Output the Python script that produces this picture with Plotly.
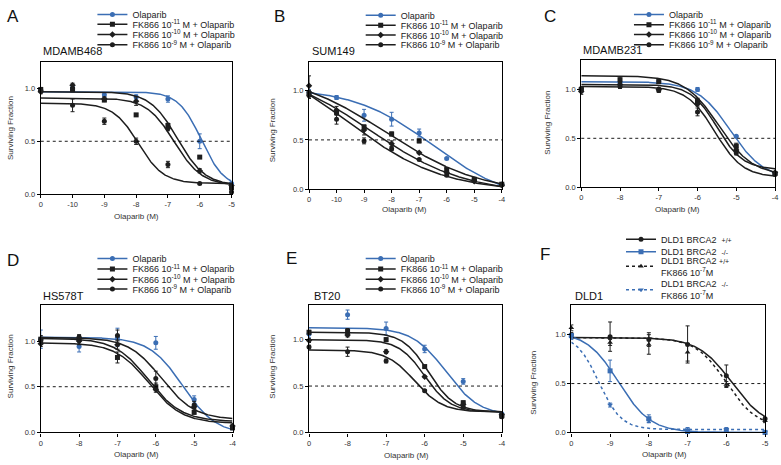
import numpy as np
import plotly.graph_objects as go

W, H = 781, 465
FONT = "Liberation Sans, Arial, sans-serif"
BLUE = "#3b6eb4"
BLACK = "#1e1e1e"

# ================= DATA =================
# log10 concentration positions; first position is the untreated "0" control
# ---- A  MDAMB468
a_x = [-11, -10, -9, -8, -7, -6, -5]
a_ticks = ["0", "-10", "-9", "-8", "-7", "-6", "-5"]
a_olap = [0.98, 1.00, 0.94, 0.92, 0.90, 0.50, 0.10]
a_olap_err = [0.02, 0.02, 0.02, 0.02, 0.03, 0.07, 0.01]
a_fk11 = [0.99, 0.99, 0.89, 0.75, 0.65, 0.35, 0.06]
a_fk11_err = [0.02, 0.02, 0.01, 0.01, 0.02, 0.01, 0.01]
a_fk10 = [0.97, 1.03, 0.90, 0.88, 0.62, 0.22, 0.08]
a_fk10_err = [0.02, 0.02, 0.02, 0.04, 0.02, 0.02, 0.01]
a_fk9 = [0.98, 0.84, 0.69, 0.50, 0.28, 0.10, 0.02]
a_fk9_err = [0.02, 0.06, 0.03, 0.03, 0.03, 0.01, 0.01]
# fitted 4PL parameters: top, bottom, logIC50, hill
a_fit_olap = [0.97, 0.06, -5.95, 1.2]
a_fit_fk11 = [0.97, 0.08, -6.70, 1.0]
a_fit_fk10 = [0.91, 0.08, -6.80, 1.0]
a_fit_fk9 = [0.86, 0.10, -7.93, 1.1]

# ---- B  SUM149
b_x = [-11, -10, -9, -8, -7, -6, -5, -4]
b_ticks = ["0", "-10", "-9", "-8", "-7", "-6", "-5", "-4"]
b_olap = [0.98, 0.93, 0.75, 0.71, 0.57, 0.31, 0.10, 0.05]
b_olap_err = [0.03, 0.02, 0.06, 0.07, 0.04, 0.01, 0.01, 0.01]
b_fk11 = [0.97, 0.78, 0.63, 0.56, 0.49, 0.20, 0.10, 0.05]
b_fk11_err = [0.03, 0.03, 0.02, 0.02, 0.02, 0.01, 0.01, 0.01]
b_fk10 = [1.05, 0.80, 0.60, 0.46, 0.37, 0.17, 0.08, 0.04]
b_fk10_err = [0.10, 0.04, 0.05, 0.03, 0.01, 0.01, 0.01, 0.01]
b_fk9 = [0.95, 0.71, 0.49, 0.41, 0.30, 0.14, 0.09, 0.05]
b_fk9_err = [0.03, 0.05, 0.03, 0.02, 0.01, 0.01, 0.01, 0.01]
b_fit_olap = [1.03, -0.14, -6.50, 0.30]
b_fit_fk11 = [1.20, -0.05, -8.20, 0.25]
b_fit_fk10 = [1.25, -0.05, -8.80, 0.25]
b_fit_fk9 = [1.40, -0.03, -9.60, 0.25]

# ---- C  MDAMB231
c_x = [-9, -8, -7, -6, -5, -4]
c_ticks = ["0", "-8", "-7", "-6", "-5", "-4"]
c_olap = [1.00, 1.07, 1.08, 1.00, 0.52, 0.14]
c_olap_err = [0.03, 0.02, 0.02, 0.02, 0.01, 0.01]
c_fk11 = [1.00, 1.10, 1.08, 0.88, 0.42, 0.14]
c_fk11_err = [0.02, 0.03, 0.02, 0.03, 0.03, 0.01]
c_fk10 = [0.98, 1.05, 1.00, 0.85, 0.38, 0.15]
c_fk10_err = [0.03, 0.02, 0.02, 0.02, 0.02, 0.01]
c_fk9 = [1.01, 1.03, 0.99, 0.77, 0.35, 0.13]
c_fk9_err = [0.02, 0.02, 0.02, 0.04, 0.02, 0.01]
c_fit_olap = [1.08, 0.08, -5.15, 1.0]
c_fit_fk11 = [1.14, 0.12, -5.45, 1.0]
c_fit_fk10 = [1.05, 0.18, -5.50, 1.3]
c_fit_fk9 = [1.03, 0.10, -5.55, 1.2]

# ---- D  HS578T
d_x = [-9, -8, -7, -6, -5, -4]
d_ticks = ["0", "-8", "-7", "-6", "-5", "-4"]
d_olap = [1.02, 0.94, 1.04, 0.98, 0.36, 0.05]
d_olap_err = [0.10, 0.06, 0.10, 0.07, 0.04, 0.02]
d_fk11 = [1.02, 1.02, 0.82, 0.50, 0.22, 0.05]
d_fk11_err = [0.04, 0.04, 0.06, 0.04, 0.02, 0.02]
d_fk10 = [0.97, 1.00, 0.96, 0.47, 0.28, 0.07]
d_fk10_err = [0.03, 0.04, 0.05, 0.03, 0.02, 0.02]
d_fk9 = [1.01, 1.04, 1.06, 0.59, 0.30, 0.06]
d_fk9_err = [0.03, 0.03, 0.06, 0.08, 0.04, 0.02]
d_fit_olap = [1.04, -0.02, -5.30, 1.0]
d_fit_fk11 = [1.03, 0.12, -6.19, 1.0]
d_fit_fk10 = [0.98, 0.10, -6.18, 1.0]
d_fit_fk9 = [1.04, 0.14, -5.85, 1.0]

# ---- E  BT20
e_x = [-9, -8, -7, -6, -5, -4]
e_ticks = ["0", "-8", "-7", "-6", "-5", "-4"]
e_olap = [1.06, 1.27, 1.12, 0.90, 0.55, 0.20]
e_olap_err = [0.04, 0.05, 0.07, 0.04, 0.03, 0.01]
e_fk11 = [1.08, 1.09, 1.00, 0.71, 0.32, 0.18]
e_fk11_err = [0.02, 0.03, 0.02, 0.01, 0.02, 0.01]
e_fk10 = [0.99, 1.05, 0.87, 0.60, 0.30, 0.19]
e_fk10_err = [0.02, 0.02, 0.02, 0.01, 0.02, 0.01]
e_fk9 = [0.92, 0.87, 0.77, 0.45, 0.27, 0.17]
e_fk9_err = [0.02, 0.05, 0.02, 0.01, 0.01, 0.02]
e_fit_olap = [1.13, 0.18, -5.45, 1.0]
e_fit_fk11 = [1.08, 0.22, -5.90, 1.3]
e_fit_fk10 = [1.00, 0.22, -6.00, 1.3]
e_fit_fk9 = [0.89, 0.22, -6.26, 1.2]

# ---- F  DLD1
f_x = [-10, -9, -8, -7, -6, -5]
f_ticks = ["0", "-9", "-8", "-7", "-6", "-5"]
f_wt = [1.00, 0.98, 0.95, 0.90, 0.58, 0.14]
f_wt_err = [0.02, 0.15, 0.07, 0.19, 0.11, 0.02]
f_ko = [0.99, 0.63, 0.14, 0.01, 0.02, 0.00]
f_ko_err = [0.02, 0.11, 0.04, 0.02, 0.02, 0.01]
f_wt_fk = [1.07, 0.92, 0.90, 0.82, 0.49, 0.12]
f_wt_fk_err = [0.03, 0.03, 0.10, 0.09, 0.03, 0.02]
f_ko_fk = [0.97, 0.28, 0.12, 0.03, 0.03, 0.00]
f_ko_fk_err = [0.02, 0.02, 0.02, 0.02, 0.02, 0.01]
f_fit_wt = [0.97, 0.05, -5.86, 1.0]
f_fit_ko = [1.03, 0.00, -8.78, 1.05]
f_fit_wt_fk = [0.97, 0.05, -6.00, 1.1]
f_fit_ko_fk = [1.00, 0.03, -9.29, 1.5]

# legend labels
SMALL = "<span style='font-size:7px'>%s</span>"
LBL_OLAP = "Olaparib"
LBL_FK11 = "FK866 10<sup>-11</sup> M + Olaparib"
LBL_FK10 = "FK866 10<sup>-10</sup> M + Olaparib"
LBL_FK9 = "FK866 10<sup>-9</sup> M + Olaparib"
LBL_WT = "DLD1 BRCA2  " + SMALL % "+/+"
LBL_KO = "DLD1 BRCA2  " + SMALL % "-/-"
LBL_WT_FK = "DLD1 BRCA2 " + SMALL % "+/+" + "<br>FK866 10<sup>-7</sup>M"
LBL_KO_FK = "DLD1 BRCA2  " + SMALL % "-/-" + "<br>FK866 10<sup>-7</sup>M"

Y_TICKS = [0, 0.5, 1.0]
Y_TICKTEXT = ["0.0", "0.5", "1.0"]
HALF = 0.5


def fourpl(x, p):
    top, bottom, logic50, hill = p
    return bottom + (top - bottom) / (1 + 10 ** (hill * (x - logic50)))


def std_series(olap, olap_e, fo, fk11, fk11_e, f11, fk10, fk10_e, f10, fk9, fk9_e, f9):
    return [
        (LBL_OLAP, olap, olap_e, fo, BLUE, "circle", "solid"),
        (LBL_FK11, fk11, fk11_e, f11, BLACK, "square", "solid"),
        (LBL_FK10, fk10, fk10_e, f10, BLACK, "diamond", "solid"),
        (LBL_FK9, fk9, fk9_e, f9, BLACK, "circle", "solid"),
    ]


panels = [
    dict(letter="A", name="MDAMB468", x=a_x, ticks=a_ticks,
         series=std_series(a_olap, a_olap_err, a_fit_olap, a_fk11, a_fk11_err, a_fit_fk11,
                           a_fk10, a_fk10_err, a_fit_fk10, a_fk9, a_fk9_err, a_fit_fk9),
         box=(39, 231, 61, 195), ymax=1.25, let=(3, 15), tit=(39, 50), yt=(8, 128), xt=(135, 218),
         legx=131, legy=[12.5, 22.5, 33, 43.5]),
    dict(letter="B", name="SUM149", x=b_x, ticks=b_ticks,
         series=std_series(b_olap, b_olap_err, b_fit_olap, b_fk11, b_fk11_err, b_fit_fk11,
                           b_fk10, b_fk10_err, b_fit_fk10, b_fk9, b_fk9_err, b_fit_fk9),
         box=(309, 503, 61, 190), ymax=1.29, let=(272, 15), tit=(310, 50), yt=(272, 130), xt=(405, 211),
         legx=401, legy=[13.5, 23.5, 33.5, 43.5]),
    dict(letter="C", name="MDAMB231", x=c_x, ticks=c_ticks,
         series=std_series(c_olap, c_olap_err, c_fit_olap, c_fk11, c_fk11_err, c_fit_fk11,
                           c_fk10, c_fk10_err, c_fit_fk10, c_fk9, c_fk9_err, c_fit_fk9),
         box=(583, 778, 59, 188), ymax=1.30, let=(543, 15), tit=(583, 49), yt=(549, 122), xt=(680, 211),
         legx=671, legy=[12.5, 23, 33, 43.5]),
    dict(letter="D", name="HS578T", x=d_x, ticks=d_ticks,
         series=std_series(d_olap, d_olap_err, d_fit_olap, d_fk11, d_fk11_err, d_fit_fk11,
                           d_fk10, d_fk10_err, d_fit_fk10, d_fk9, d_fk9_err, d_fit_fk9),
         box=(39, 232, 308, 437), ymax=1.39, let=(3, 262), tit=(39, 299), yt=(8, 370), xt=(135, 459),
         legx=131, legy=[260.5, 271, 281.5, 291.5]),
    dict(letter="E", name="BT20", x=e_x, ticks=e_ticks,
         series=std_series(e_olap, e_olap_err, e_fit_olap, e_fk11, e_fk11_err, e_fit_fk11,
                           e_fk10, e_fk10_err, e_fit_fk10, e_fk9, e_fk9_err, e_fit_fk9),
         box=(309, 503, 308, 437), ymax=1.37, let=(284, 260), tit=(312, 298), yt=(272, 370), xt=(407, 460),
         legx=401, legy=[260.5, 271, 281.5, 291.5]),
    dict(letter="F", name="DLD1", x=f_x, ticks=f_ticks,
         series=[
             (LBL_WT, f_wt, f_wt_err, f_fit_wt, BLACK, "circle", "solid"),
             (LBL_KO, f_ko, f_ko_err, f_fit_ko, BLUE, "square", "solid"),
             (LBL_WT_FK, f_wt_fk, f_wt_fk_err, f_fit_wt_fk, BLACK, "triangle-up", "dot"),
             (LBL_KO_FK, f_ko_fk, f_ko_fk_err, f_fit_ko_fk, BLUE, "triangle-down", "dot"),
         ],
         box=(573, 768, 308, 437), ymax=1.30, let=(539, 256), tit=(575, 298), yt=(535, 387), xt=(667, 459),
         legx=663, legy=[241, 253.5, 268.5, 292.5]),
]

fig = go.Figure()
layout = dict(
    width=W, height=H, margin=dict(l=0, r=0, t=0, b=0),
    paper_bgcolor="white", plot_bgcolor="white",
    font=dict(family=FONT, color="#222"),
    showlegend=True,
)
annotations = []
shapes = []
leg_n = 0

for i, p in enumerate(panels):
    n = i + 1
    sfx = "" if n == 1 else str(n)
    xa, ya = "x" + sfx, "y" + sfx
    l, r, t, b = p["box"]
    xmin, xmax = min(p["x"]), max(p["x"])
    grid = np.linspace(xmin, xmax, 300)

    for (label, vals, errs, fit, col, sym, dash) in p["series"]:
        fig.add_trace(go.Scatter(
            x=grid, y=fourpl(grid, fit), mode="lines", xaxis=xa, yaxis=ya,
            line=dict(color=col, width=1.5, dash=dash), showlegend=False, hoverinfo="skip"))
        fig.add_trace(go.Scatter(
            x=p["x"], y=vals, mode="markers", xaxis=xa, yaxis=ya, cliponaxis=False,
            marker=dict(color=col, symbol=sym, size=5),
            error_y=dict(type="data", array=errs, color=col, thickness=1, width=2),
            showlegend=False))
        leg_n += 1
        lid = "legend" if leg_n == 1 else "legend%d" % leg_n
        fig.add_trace(go.Scatter(
            x=[None], y=[None], mode="lines+markers", name=label, legend=lid,
            xaxis=xa, yaxis=ya,
            line=dict(color=col, width=1.5, dash=dash),
            marker=dict(color=col, symbol=sym, size=5)))
        layout[lid] = dict(
            x=(p["legx"] - 40) / W, y=1 - p["legy"][(leg_n - 1) % 4] / H,
            xanchor="left", yanchor="middle", bgcolor="rgba(0,0,0,0)",
            borderwidth=0, itemwidth=30, tracegroupgap=0,
            font=dict(size=9, family=FONT, color="#222"))

    axis_common = dict(showline=True, mirror=True, linecolor="black", linewidth=1.3,
                       ticks="outside", ticklen=3, tickwidth=1, tickcolor="black",
                       tickfont=dict(size=7.5, color="#333", family=FONT),
                       showgrid=False, zeroline=False, fixedrange=True)
    layout["xaxis" + sfx] = dict(axis_common, domain=[l / W, r / W], range=[xmin, xmax],
                                 tickvals=p["x"], ticktext=p["ticks"], anchor=ya)
    layout["yaxis" + sfx] = dict(axis_common, domain=[1 - b / H, 1 - t / H], range=[0, p["ymax"]],
                                 tickvals=Y_TICKS, ticktext=Y_TICKTEXT, anchor=xa)

    shapes.append(dict(type="line", xref=xa + " domain", yref=ya, x0=0, x1=1, y0=HALF, y1=HALF,
                       line=dict(color="black", width=0.9, dash="dot")))

    annotations.append(dict(text=p["letter"], x=p["let"][0] / W, y=1 - p["let"][1] / H,
                            xref="paper", yref="paper", xanchor="left", yanchor="middle",
                            showarrow=False, font=dict(size=17, family=FONT, color="#111")))
    annotations.append(dict(text=p["name"], x=p["tit"][0] / W, y=1 - p["tit"][1] / H,
                            xref="paper", yref="paper", xanchor="left", yanchor="middle",
                            showarrow=False, font=dict(size=11, family=FONT, color="#111")))
    annotations.append(dict(text="Surviving Fraction", x=p["yt"][0] / W, y=1 - p["yt"][1] / H,
                            xref="paper", yref="paper", xanchor="center", yanchor="middle",
                            textangle=-90, showarrow=False,
                            font=dict(size=8, family=FONT, color="#333")))
    annotations.append(dict(text="Olaparib (M)", x=p["xt"][0] / W, y=1 - p["xt"][1] / H,
                            xref="paper", yref="paper", xanchor="center", yanchor="middle",
                            showarrow=False, font=dict(size=8, family=FONT, color="#333")))

layout["annotations"] = annotations
layout["shapes"] = shapes
fig.update_layout(**layout)
fig.write_html("out.html", config={"displayModeBar": False},
               post_script="document.body.style.margin='0';document.body.style.overflow='hidden';")
